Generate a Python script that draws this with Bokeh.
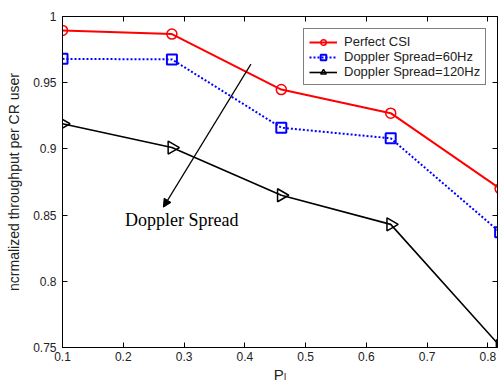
import numpy as np
from bokeh.plotting import figure
from bokeh.models import (ColumnDataSource, Legend, LegendItem, LinearAxis, FixedTicker,
                          Arrow, NormalHead, Label, Range1d)
from bokeh.embed import file_html
from bokeh.resources import INLINE

# ---- data ----
p_i = [0.10, 0.28, 0.46, 0.64, 0.82]
perfect_csi = [0.9895, 0.9867, 0.9448, 0.9270, 0.8700]
doppler_60 = [0.9680, 0.9676, 0.9160, 0.9080, 0.8370]
doppler_120 = [0.9190, 0.9010, 0.8650, 0.8430, 0.7510]
x_ticks = [0.1, 0.2, 0.3, 0.4, 0.5, 0.6, 0.7, 0.8]
y_ticks = [0.75, 0.8, 0.85, 0.9, 0.95, 1.0]
y_tick_labels = {0.75: "0.75", 0.8: "0.8", 0.85: "0.85", 0.9: "0.9", 0.95: "0.95", 1.0: "1"}
arrow_start = (0.410, 0.964)
arrow_end = (0.266, 0.856)
note_pos = (0.203, 0.839)

FONT = "Liberation Sans"
TXT = "#222222"

p = figure(width=502, height=389, output_backend="svg", toolbar_location=None,
           x_range=Range1d(0.1, 0.8157), y_range=Range1d(0.75, 1.0),
           min_border_left=62, min_border_right=5, min_border_top=16, min_border_bottom=42,
           background_fill_color="white", border_fill_color="white")
p.outline_line_color = "black"
p.outline_line_width = 1
p.grid.visible = False

for ax in (p.xaxis[0], p.yaxis[0]):
    ax.major_tick_in = 5
    ax.major_tick_out = 0
    ax.minor_tick_line_color = None
    ax.axis_line_color = "black"
    ax.major_label_text_font = FONT
    ax.major_label_text_font_size = "12px"
    ax.major_label_text_color = TXT
    ax.axis_label_text_font = FONT
    ax.axis_label_text_font_style = "normal"
    ax.axis_label_text_color = TXT

p.xaxis[0].ticker = FixedTicker(ticks=x_ticks)
p.yaxis[0].ticker = FixedTicker(ticks=y_ticks)
p.yaxis[0].major_label_overrides = y_tick_labels
p.xaxis[0].major_label_standoff = 4
p.yaxis[0].major_label_standoff = 6
p.xaxis[0].axis_label = "P\u2097"
p.xaxis[0].axis_label_text_font = "Liberation Sans, DejaVu Sans"
p.xaxis[0].axis_label_text_font_size = "15px"
p.xaxis[0].axis_label_standoff = 2
p.yaxis[0].axis_label = "ncrmalized throughput per CR user"
p.yaxis[0].axis_label_text_font_size = "14px"
p.yaxis[0].axis_label_standoff = 8

for loc, tk in (("above", x_ticks), ("right", y_ticks)):
    ax = LinearAxis(ticker=FixedTicker(ticks=tk),
                    major_label_overrides={t: "" for t in tk},
                    major_label_text_font_size="1px",
                    major_tick_in=5, major_tick_out=0, minor_tick_line_color=None,
                    major_label_standoff=0, axis_line_color="black")
    p.add_layout(ax, loc)

src = ColumnDataSource(dict(x=p_i, a=perfect_csi, b=doppler_60, c=doppler_120))

l1 = p.line("x", "a", source=src, line_color="red", line_width=2)
m1 = p.scatter("x", "a", source=src, marker="circle", size=10, fill_color=None,
               line_color="red", line_width=1.5)
l2 = p.line("x", "b", source=src, line_color="blue", line_width=2, line_dash="2 2")
m2 = p.scatter("x", "b", source=src, marker="square", size=10, fill_color=None,
               line_color="blue", line_width=2)
l3 = p.line("x", "c", source=src, line_color="black", line_width=1.6)
m3 = p.scatter("x", "c", source=src, marker="triangle", angle=-np.pi / 2, size=13,
               fill_color=None, line_color="black", line_width=1.5)

p.add_layout(Arrow(end=NormalHead(size=8, fill_color="black", line_color="black"),
                   x_start=arrow_start[0], y_start=arrow_start[1],
                   x_end=arrow_end[0], y_end=arrow_end[1],
                   line_color="black", line_width=1.2))
p.add_layout(Label(x=note_pos[0], y=note_pos[1], text="Doppler Spread",
                   text_font="Liberation Serif", text_font_size="18px",
                   text_color="black"))

legend = Legend(items=[
    LegendItem(label="Perfect CSI", renderers=[l1, m1]),
    LegendItem(label="Doppler Spread=60Hz", renderers=[l2, m2]),
    LegendItem(label="Doppler Spread=120Hz", renderers=[l3, m3]),
], location=(241, 262))
legend.label_text_font = FONT
legend.label_text_font_size = "13px"
legend.label_text_color = TXT
legend.label_height = 14
legend.glyph_height = 14
legend.glyph_width = 28
legend.label_standoff = 7
legend.spacing = 0
legend.padding = 5
legend.margin = 0
legend.border_line_color = "black"
legend.border_line_width = 1
legend.background_fill_alpha = 1
p.add_layout(legend, "center")

open("out.html", "w").write(file_html(p, INLINE))
